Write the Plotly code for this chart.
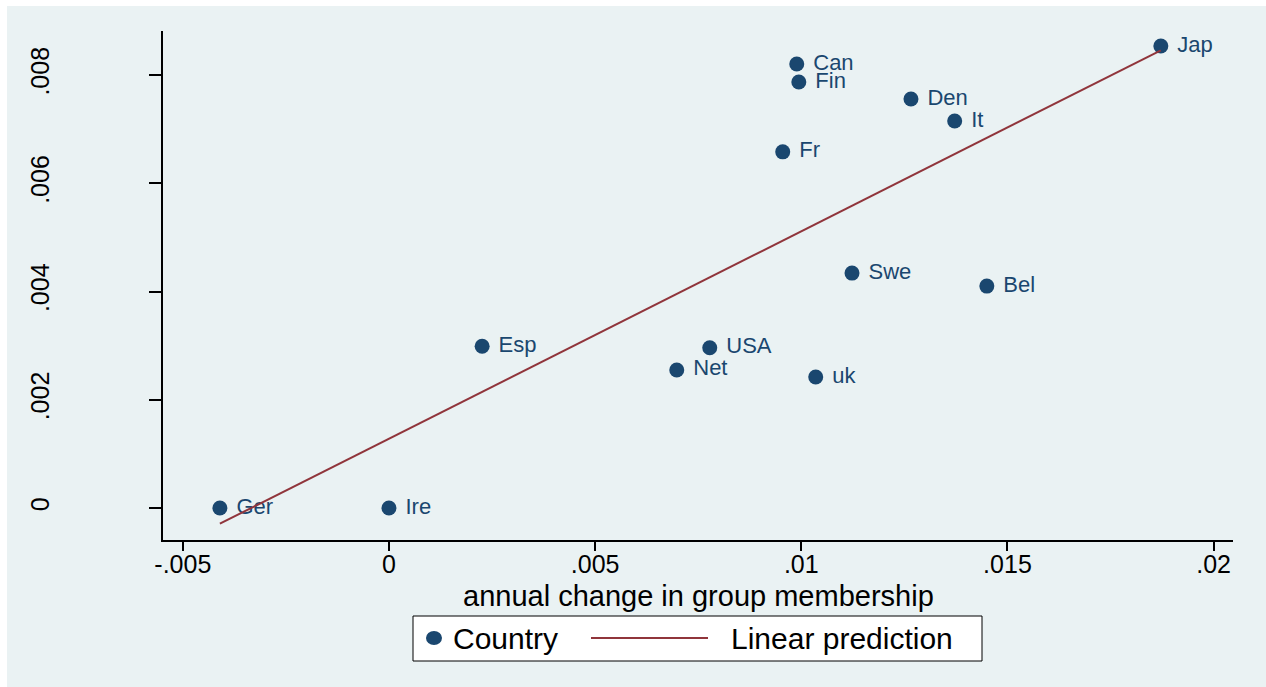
import numpy as np
import plotly.graph_objects as go

# ---- data ----
countries = ["Jap", "Can", "Fin", "Den", "It", "Fr", "Swe", "Bel",
             "Esp", "USA", "Net", "uk", "Ger", "Ire"]
group_change = [0.01872, 0.00989, 0.00994, 0.01266, 0.01372, 0.00955, 0.01123, 0.01450,
                0.00226, 0.00778, 0.00698, 0.01035, -0.00410, 0.0]
outcome = [0.008536, 0.008203, 0.00787, 0.007556, 0.00715, 0.00658, 0.00434, 0.00410,
           0.00299, 0.00296, 0.00255, 0.00242, 0.0, 0.0]

x_tickvals = [-0.005, 0.0, 0.005, 0.01, 0.015, 0.02]
x_ticktext = ["-.005", "0", ".005", ".01", ".015", ".02"]
y_tickvals = [0.0, 0.002, 0.004, 0.006, 0.008]
y_ticktext = ["0", ".002", ".004", ".006", ".008"]

x_title = "annual change in group membership"
scatter_name = "Country"
fit_name = "Linear prediction"

# ---- linear fit over the observed x range ----
xa = np.array(group_change)
ya = np.array(outcome)
slope, intercept = np.polyfit(xa, ya, 1)
fit_x = [xa.min(), xa.max()]
fit_y = [intercept + slope * v for v in fit_x]

NAVY = "#1a476f"
MAROON = "#90353b"
BG = "#eaf2f3"
FONT = "Liberation Sans, Arial, sans-serif"

fig = go.Figure()
fig.add_trace(go.Scatter(
    x=group_change, y=outcome, mode="markers+text", name=scatter_name,
    text=["\u00a0" + c for c in countries], textposition="middle right",
    textfont=dict(family=FONT, size=22, color=NAVY),
    marker=dict(color=NAVY, size=15, line=dict(width=0)),
    cliponaxis=False, showlegend=False,
))
fig.add_trace(go.Scatter(
    x=fit_x, y=fit_y, mode="lines", name=fit_name,
    line=dict(color=MAROON, width=2), showlegend=False,
))

W, H = 1266, 687
L, R, T, B = 163, 33, 31, 147
pw, ph = W - L - R, H - T - B


def px_x(p):
    return (p - L) / pw


def px_y(p):
    return (H - B - p) / ph


# outer Stata-like background
fig.add_shape(type="rect", xref="paper", yref="paper", layer="below",
              x0=px_x(7), x1=px_x(W + 5), y0=px_y(H + 5), y1=px_y(6),
              fillcolor=BG, line=dict(width=0))

# x-axis title
fig.add_annotation(text=x_title, xref="paper", yref="paper",
                   x=px_x(698), y=px_y(596), xanchor="center", yanchor="middle",
                   showarrow=False, font=dict(family=FONT, size=29, color="black"))

# legend box (Stata style)
fig.add_shape(type="rect", xref="paper", yref="paper", layer="above",
              x0=px_x(413), x1=px_x(982), y0=px_y(661), y1=px_y(616),
              fillcolor="white", line=dict(color="black", width=1))
fig.add_shape(type="circle", xref="paper", yref="paper", layer="above",
              x0=px_x(426), x1=px_x(442), y0=px_y(645), y1=px_y(631),
              fillcolor=NAVY, line=dict(width=0))
fig.add_annotation(text=scatter_name, xref="paper", yref="paper",
                   x=px_x(451), y=px_y(638), xanchor="left", yanchor="middle",
                   showarrow=False, font=dict(family=FONT, size=30, color="black"))
fig.add_shape(type="line", xref="paper", yref="paper", layer="above",
              x0=px_x(591), x1=px_x(708), y0=px_y(638), y1=px_y(638),
              line=dict(color=MAROON, width=2))
fig.add_annotation(text=fit_name, xref="paper", yref="paper",
                   x=px_x(729), y=px_y(638), xanchor="left", yanchor="middle",
                   showarrow=False, font=dict(family=FONT, size=30, color="black"))

fig.update_layout(
    width=W, height=H,
    margin=dict(l=L, r=R, t=T, b=B, pad=0),
    paper_bgcolor="white", plot_bgcolor="white",
    font=dict(family=FONT, color="black"),
    showlegend=False,
    xaxis=dict(
        range=[-0.00548, 0.02047], tickvals=x_tickvals, ticktext=x_ticktext,
        showgrid=False, zeroline=False, showline=True, linecolor="black", linewidth=1.5,
        ticks="outside", ticklen=9, tickcolor="black", tickwidth=1.5,
        ticklabelstandoff=-8,
        tickfont=dict(family=FONT, size=25, color="black"),
        automargin=False,
    ),
    yaxis=dict(
        range=[-0.000591, 0.008813], tickvals=y_tickvals, ticktext=y_ticktext,
        showgrid=True, gridcolor=BG, gridwidth=2, zeroline=False,
        showline=True, linecolor="black", linewidth=1.5,
        ticks="outside", ticklen=12, tickcolor="black", tickwidth=1.5,
        tickangle=-90, ticklabelstandoff=90,
        tickfont=dict(family=FONT, size=25, color="black"),
        automargin=False,
    ),
)

fig.write_html("out.html", config={"displayModeBar": False},
               post_script="document.body.style.margin='0';document.body.style.overflow='hidden';")
